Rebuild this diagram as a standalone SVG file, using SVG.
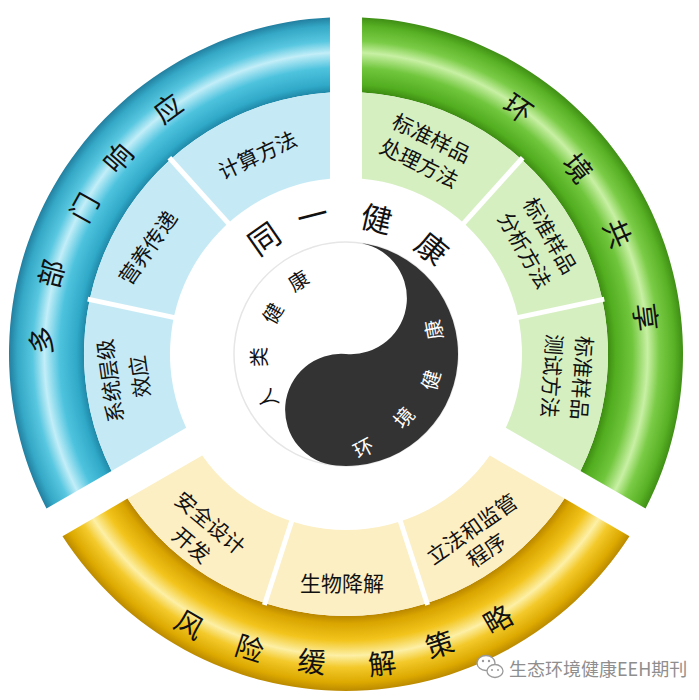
<svg xmlns="http://www.w3.org/2000/svg" xmlns:xlink="http://www.w3.org/1999/xlink" width="699" height="700" viewBox="0 0 699 700">
<style>
text{font-family:"Noto Sans CJK SC","Noto Sans",sans-serif;text-anchor:middle;dominant-baseline:central;fill:#111}
.tube{font-size:28px}
.sec{font-size:21px}
.ttl{font-size:31px}
.yy{font-size:20px}
.yw{font-size:20px;fill:#fff}
.div{stroke:#fff;stroke-width:5}
.wm{font-size:18px;fill:#8e8e8e;text-anchor:start}
</style>
<defs>
<radialGradient id="gBlue" gradientUnits="userSpaceOnUse" cx="0" cy="0" r="337">
<stop offset="0.777" stop-color="#1f88a8"/><stop offset="0.80" stop-color="#30a9c8"/><stop offset="0.85" stop-color="#4ec3de"/><stop offset="0.895" stop-color="#c2eef8"/><stop offset="0.93" stop-color="#58c7e0"/><stop offset="0.975" stop-color="#34a8c6"/><stop offset="1" stop-color="#237fa0"/>
</radialGradient>
<radialGradient id="gGreen" gradientUnits="userSpaceOnUse" cx="0" cy="0" r="337">
<stop offset="0.777" stop-color="#3d8c12"/><stop offset="0.80" stop-color="#52ad1f"/><stop offset="0.85" stop-color="#70c63c"/><stop offset="0.895" stop-color="#c8f0a4"/><stop offset="0.93" stop-color="#7acb46"/><stop offset="0.975" stop-color="#58b124"/><stop offset="1" stop-color="#3f8f15"/>
</radialGradient>
<radialGradient id="gYellow" gradientUnits="userSpaceOnUse" cx="0" cy="0" r="337">
<stop offset="0.777" stop-color="#b98600"/><stop offset="0.80" stop-color="#d9a500"/><stop offset="0.85" stop-color="#f2c41c"/><stop offset="0.895" stop-color="#fdf0a6"/><stop offset="0.93" stop-color="#f3c92a"/><stop offset="0.975" stop-color="#dca900"/><stop offset="1" stop-color="#bb8a00"/>
</radialGradient>
<path id="tubeShape" d="M 283.5 182.2 A 337 337 0 0 1 -283.5 182.2 L -218.5 144.6 A 262 262 0 0 0 218.5 144.6 Z"/>
<path id="bandShape" d="M 218.5 144.6 A 262 262 0 0 1 -218.5 144.6 L -143.8 101.5 A 176 176 0 0 0 143.8 101.5 Z"/>
<g id="dividers"><line class="div" x1="53.8" y1="165.5" x2="81.6" y2="251.1"/><line class="div" x1="-53.8" y1="165.5" x2="-81.6" y2="251.1"/></g>
</defs>
<rect width="699" height="700" fill="#fff"/>

<g id="seg-blue">
<g transform="translate(346,354) rotate(120)">
<use xlink:href="#tubeShape" fill="url(#gBlue)"/>
<use xlink:href="#bandShape" fill="#c6eaf5"/>
<use xlink:href="#dividers"/>
</g>
<g id="title-blue">
<text class="tube" transform="translate(40,340) rotate(-87)">多</text>
<text class="tube" transform="translate(50,273) rotate(-75)">部</text>
<text class="tube" transform="translate(83,207) rotate(-61)">门</text>
<text class="tube" transform="translate(117,157) rotate(-49)">响</text>
<text class="tube" transform="translate(167,107) rotate(-36)">应</text>
</g>
<g id="sec-calc"><text class="sec" transform="translate(257,154) rotate(-25)">计算方法</text></g>
<g id="sec-nutri"><text class="sec" transform="translate(147,247) rotate(-55)">营养传递</text></g>
<g id="sec-system" transform="translate(109,381) rotate(-98)"><text class="sec" y="0">系统层级</text><text class="sec" y="30">效应</text></g>
</g>

<g id="seg-green">
<g transform="translate(346,354) rotate(240)">
<use xlink:href="#tubeShape" fill="url(#gGreen)"/>
<use xlink:href="#bandShape" fill="#d6efc1"/>
<use xlink:href="#dividers"/>
</g>
<g id="title-green">
<text class="tube" transform="translate(519,107) rotate(35)">环</text>
<text class="tube" transform="translate(579,167) rotate(51)">境</text>
<text class="tube" transform="translate(619,233) rotate(66)">共</text>
<text class="tube" transform="translate(647,317) rotate(83)">享</text>
</g>
<g id="sec-process" transform="translate(432,137) rotate(26)"><text class="sec" y="0">标准样品</text><text class="sec" y="28">处理方法</text></g>
<g id="sec-analysis" transform="translate(551,235) rotate(60)"><text class="sec" y="0">标准样品</text><text class="sec" y="29">分析方法</text></g>
<g id="sec-test" transform="translate(583,378) rotate(94)"><text class="sec" y="0">标准样品</text><text class="sec" y="30">测试方法</text></g>
</g>

<g id="seg-yellow">
<g transform="translate(346,354)">
<use xlink:href="#tubeShape" fill="url(#gYellow)"/>
<use xlink:href="#bandShape" fill="#fcefc4"/>
<use xlink:href="#dividers"/>
</g>
<g id="title-yellow">
<text class="tube" transform="translate(190,623) rotate(30)">风</text>
<text class="tube" transform="translate(250,647) rotate(18)">险</text>
<text class="tube" transform="translate(312,660) rotate(6)">缓</text>
<text class="tube" transform="translate(382,662) rotate(-7)">解</text>
<text class="tube" transform="translate(439,643) rotate(-18)">策</text>
<text class="tube" transform="translate(497,618) rotate(-30)">略</text>
</g>
<g id="sec-safe" transform="translate(211,522) rotate(40)"><text class="sec" y="0">安全设计</text><text class="sec" y="29">开发</text></g>
<g id="sec-bio"><text class="sec" x="342" y="582">生物降解</text></g>
<g id="sec-law" transform="translate(471,528) rotate(-35)"><text class="sec" y="0">立法和监管</text><text class="sec" y="26">程序</text></g>
</g>

<g id="center">
<g id="yinyang" transform="translate(346,354) rotate(5)">
<circle r="112" fill="#fff" stroke="#e6e6e6" stroke-width="1.5"/>
<path d="M 0 -112 A 112 112 0 0 1 0 112 A 56 56 0 0 1 0 0 A 56 56 0 0 0 0 -112 Z" fill="#333"/>
</g>
<g id="title-onehealth">
<text class="ttl" transform="translate(263,237) rotate(-35)">同</text>
<text class="ttl" transform="translate(312,214) rotate(-14)">一</text>
<text class="ttl" transform="translate(377,217) rotate(13)">健</text>
<text class="ttl" transform="translate(433,247) rotate(39)">康</text>
</g>
<g id="human-health">
<text class="yy" transform="translate(267,400) rotate(-120)">人</text>
<text class="yy" transform="translate(258,357) rotate(-92)">类</text>
<text class="yy" transform="translate(272,313) rotate(-61)">健</text>
<text class="yy" transform="translate(298,280) rotate(-32)">康</text>
</g>
<g id="env-health">
<text class="yw" transform="translate(363,447) rotate(-28)">环</text>
<text class="yw" transform="translate(403,417) rotate(-48)">境</text>
<text class="yw" transform="translate(430,380) rotate(-75)">健</text>
<text class="yw" transform="translate(433,330) rotate(-100)">康</text>
</g>
</g>

<g id="watermark">
<ellipse cx="486" cy="663" rx="9" ry="7.5" fill="#fff" stroke="#9a9a9a" stroke-width="1.3"/>
<ellipse cx="495" cy="671" rx="8" ry="6.5" fill="#fff" stroke="#9a9a9a" stroke-width="1.3"/>
<circle cx="483" cy="661" r="1.2" fill="#9a9a9a"/><circle cx="489" cy="661" r="1.2" fill="#9a9a9a"/>
<circle cx="492" cy="670" r="1" fill="#9a9a9a"/><circle cx="498" cy="670" r="1" fill="#9a9a9a"/>
<text class="wm" x="509" y="668">生态环境健康EEH期刊</text>
</g>
</svg>
